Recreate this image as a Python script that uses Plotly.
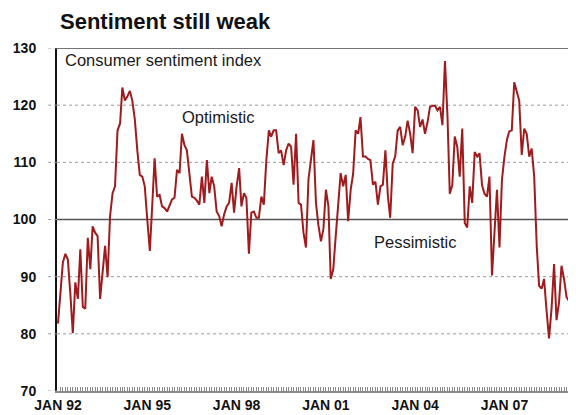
import plotly.graph_objects as go
import pandas as pd

# ---------------- data ----------------
chart_title = "Sentiment still weak"
series_label = "Consumer sentiment index"
first_month = "1992-01-01"

# Monthly index values, Jan 1992 onwards
sentiment = [
    81.8, 88.0, 92.5, 94.0, 93.0, 87.0, 80.1, 89.0, 86.1, 94.8, 84.7, 84.4,   # 1992
    96.8, 91.3, 98.8, 97.7, 97.1, 86.1, 90.5, 95.4, 89.9, 100.6, 104.6, 105.8,  # 1993
    115.6, 116.8, 123.1, 120.8, 121.5, 122.5, 120.8, 117.5, 112.0, 107.8, 107.5, 105.8,  # 1994
    100.0, 94.5, 102.0, 110.7, 104.0, 104.3, 102.3, 102.0, 101.4, 102.5, 103.5, 103.8,  # 1995
    108.7, 108.1, 115.0, 113.0, 112.1, 108.0, 104.0, 103.8, 103.3, 102.6, 107.5, 102.9,  # 1996
    110.4, 104.6, 107.5, 105.8, 101.4, 100.6, 98.8, 100.9, 102.3, 102.9, 106.4, 101.2,  # 1997
    105.8, 109.0, 102.3, 104.6, 103.8, 94.0, 101.2, 101.4, 100.3, 100.3, 104.0, 102.6,  # 1998
    110.4, 115.6, 114.5, 115.6, 115.6, 111.6, 112.1, 109.5, 112.1, 113.3, 112.7, 106.1,  # 1999
    115.0, 102.9, 102.6, 97.7, 95.1, 107.0, 111.0, 113.9, 102.9, 99.0, 96.2, 98.3,  # 2000
    105.2, 102.3, 89.6, 91.3, 97.0, 102.3, 108.1, 105.8, 107.8, 99.7, 105.2, 108.0,  # 2001
    115.6, 115.0, 117.9, 111.0, 111.0, 110.6, 110.4, 106.1, 106.6, 102.6, 105.8, 106.1,  # 2002
    112.1, 104.0, 100.3, 109.8, 111.0, 115.6, 116.2, 113.0, 114.5, 117.3, 115.0, 111.6,  # 2003
    119.7, 119.1, 116.2, 117.5, 115.0, 117.0, 119.7, 119.9, 119.9, 119.1, 119.7, 116.5,  # 2004
    127.7, 118.0, 104.5, 106.0, 114.5, 112.7, 107.5, 115.9, 99.4, 98.6, 105.8, 102.9,  # 2005
    111.8, 111.0, 111.6, 106.0, 104.5, 104.0, 107.5, 90.2, 97.7, 105.2, 95.1, 106.9,  # 2006
    111.0, 114.0, 115.4, 115.6, 124.0, 122.5, 120.8, 111.3, 115.9, 115.0, 111.0, 112.4,  # 2007
    107.5, 95.4, 88.4, 87.9, 89.6, 84.0, 79.2, 84.4, 92.2, 82.4, 85.5, 91.9,  # 2008
    89.6, 86.4, 85.8,  # 2009
]

tick_dates = ["1992-01-01", "1995-01-01", "1998-01-01", "2001-01-01", "2004-01-01", "2007-01-01"]
tick_labels = ["JAN 92", "JAN 95", "JAN 98", "JAN 01", "JAN 04", "JAN 07"]
y_ticks = [70, 80, 90, 100, 110, 120, 130]
dotted_levels = [80, 90, 110, 120]
neutral_level = 100
top_level = 130
x_range = ["1991-12-20", "2009-05-28"]

upper_label = "Optimistic"
upper_label_pos = ("1997-05-15", 117.9)
lower_label = "Pessimistic"
lower_label_pos = ("2004-01-01", 96.0)

# ---------------- figure ----------------
# The page body has an 8px margin, so the figure is sized to end at the window edge.
W, H = 568, 407
dates = pd.date_range(first_month, periods=len(sentiment), freq="MS")
FONT = "Liberation Sans, Arial, sans-serif"
LINE = "#9e1b1e"

fig = go.Figure()
fig.add_trace(go.Scatter(
    x=dates, y=sentiment, mode="lines",
    line=dict(color=LINE, width=2),
    name=series_label, showlegend=False, hoverinfo="x+y",
))

shapes = []
for v in y_ticks:
    shapes.append(dict(type="line", xref="paper", yref="y", x0=-0.017, x1=0, y0=v, y1=v,
                       line=dict(color="#9a9a9a", width=1, dash="dot")))
for v in dotted_levels:
    shapes.append(dict(type="line", xref="paper", yref="y", x0=0, x1=1, y0=v, y1=v,
                       line=dict(color="#9a9a9a", width=1, dash="dot"), layer="below"))
shapes.append(dict(type="line", xref="paper", yref="y", x0=0, x1=1, y0=neutral_level, y1=neutral_level,
                   line=dict(color="#555555", width=1.6), layer="below"))
shapes.append(dict(type="line", xref="paper", yref="y", x0=0, x1=1, y0=top_level, y1=top_level,
                   line=dict(color="#444444", width=1.6)))

annotations = [
    dict(text=series_label, xref="paper", yref="y", x=0.011, y=127.9,
         xanchor="left", yanchor="middle", showarrow=False,
         font=dict(family=FONT, size=16.5, color="#1a1a1a")),
    dict(text=upper_label, xref="x", yref="y", x=upper_label_pos[0], y=upper_label_pos[1],
         xanchor="center", yanchor="middle", showarrow=False,
         font=dict(family=FONT, size=16.5, color="#1a1a1a")),
    dict(text=lower_label, xref="x", yref="y", x=lower_label_pos[0], y=lower_label_pos[1],
         xanchor="center", yanchor="middle", showarrow=False,
         font=dict(family=FONT, size=16.5, color="#1a1a1a")),
]

fig.update_layout(
    width=W, height=H,
    margin=dict(l=49, r=0, t=40, b=24),
    paper_bgcolor="white", plot_bgcolor="white",
    title=dict(text="<b>" + chart_title + "</b>", x=52 / W, xanchor="left",
               y=1 - 13 / H, yanchor="middle",
               font=dict(family=FONT, size=22, color="#111111")),
    font=dict(family=FONT, color="#111111"),
    shapes=shapes, annotations=annotations,
    showlegend=False,
)
fig.update_xaxes(
    type="date", range=x_range,
    tickmode="array", tickvals=tick_dates, ticktext=["<b>" + t + "</b>" for t in tick_labels],
    tickfont=dict(family=FONT, size=14, color="#111111"),
    ticks="inside", ticklen=4, tickcolor="#8a8a8a", tickwidth=1,
    ticklabelstandoff=0,
    minor=dict(tick0="1992-01-01", dtick="M1", ticks="inside", ticklen=4,
               tickcolor="#8a8a8a", tickwidth=1, showgrid=False),
    showgrid=False, zeroline=False,
    showline=True, linecolor="#8a8a8a", linewidth=1.5,
    automargin=False, fixedrange=True,
)
fig.update_yaxes(
    range=[70, 130], tickmode="array", tickvals=y_ticks,
    ticktext=["<b>%d</b>" % v for v in y_ticks],
    tickfont=dict(family=FONT, size=14, color="#111111"),
    ticks="", ticklabelstandoff=16,
    showgrid=False, zeroline=False,
    showline=True, linecolor="#111111", linewidth=2,
    automargin=False, fixedrange=True,
)

fig.write_html("out.html")
